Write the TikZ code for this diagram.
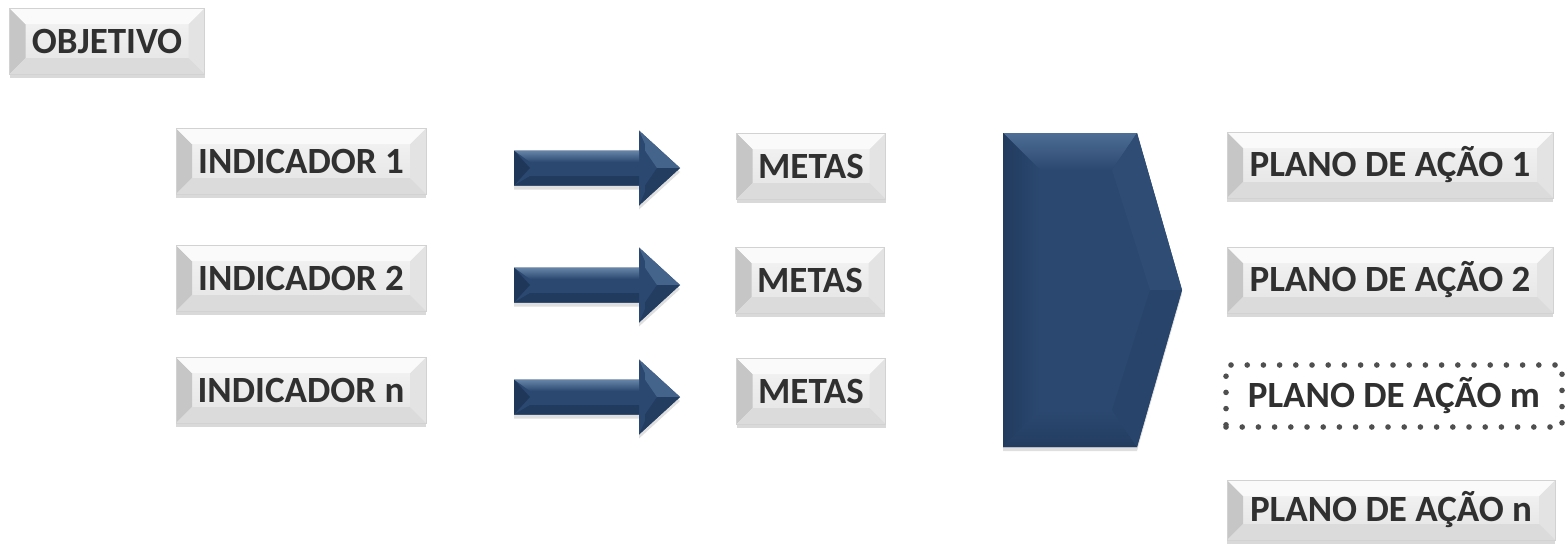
\documentclass[tikz,border=0pt]{standalone}
\usepackage{fontspec}
\setmainfont{Carlito}
\usepackage{tikz}
\usetikzlibrary{shadows}

\definecolor{txtgray}{HTML}{303030}
\definecolor{navy}{HTML}{2B4870}
\definecolor{navylight}{HTML}{56779F}
\definecolor{navydark}{HTML}{1F3859}
\newcommand\bevw{8pt}

\begin{document}
\begin{tikzpicture}[x=0.5pt,y=-0.5pt]
        \tikzstyle{bevelbox}=[rectangle,draw=gray!35,line width=0.4pt,
            top color=gray!8,bottom color=gray!22,minimum height=33pt,
            text=txtgray,font=\fontsize{18.5}{22}\selectfont\bfseries,
            drop shadow={shadow xshift=0pt,shadow yshift=-2pt,opacity=.3,fill=gray},
            path picture={
              \fill[gray!45] (path picture bounding box.south west) -- (path picture bounding box.north west)
                -- ([shift={(\bevw,-\bevw)}]path picture bounding box.north west) -- ([shift={(\bevw,\bevw)}]path picture bounding box.south west) -- cycle;
              \fill[gray!22] (path picture bounding box.south east) -- (path picture bounding box.north east)
                -- ([shift={(-\bevw,-\bevw)}]path picture bounding box.north east) -- ([shift={(-\bevw,\bevw)}]path picture bounding box.south east) -- cycle;
              \fill[gray!4] (path picture bounding box.north west) -- (path picture bounding box.north east)
                -- ([shift={(-\bevw,-\bevw)}]path picture bounding box.north east) -- ([shift={(\bevw,-\bevw)}]path picture bounding box.north west) -- cycle;
              \fill[gray!28] (path picture bounding box.south west) -- (path picture bounding box.south east)
                -- ([shift={(-\bevw,\bevw)}]path picture bounding box.south east) -- ([shift={(\bevw,\bevw)}]path picture bounding box.south west) -- cycle;
            }]
        \tikzstyle{dotbox}=[rectangle,draw=txtgray!85,line width=2.8pt,line cap=round,
            dash pattern=on 0pt off 8.1pt,minimum height=31pt,minimum width=168pt,
            text=txtgray,font=\fontsize{18.5}{22}\selectfont\bfseries]
        \tikzstyle{arrowbody}=[fill=navy,drop shadow={shadow xshift=0pt,shadow yshift=-2pt,opacity=.25,fill=gray}]
        \useasboundingbox (0,0) rectangle (1568,547);

        % left column
        \node[bevelbox,minimum width=97.5pt] (obj) at (107,41) {OBJETIVO};
        \node[bevelbox,minimum width=125pt] (ind1) at (301,161) {INDICADOR 1};
        \node[bevelbox,minimum width=125pt] (ind2) at (301,278) {INDICADOR 2};
        \node[bevelbox,minimum width=125pt] (indn) at (301,390) {INDICADOR n};

        % block arrows
        \foreach \y/\n in {168/arr1,285/arr2,397/arr3}{
          \fill[arrowbody] (514,\y-17.5) -- (639,\y-17.5) -- (639,\y-37.5) -- (680,\y)
            -- (639,\y+37.5) -- (639,\y+17.5) -- (514,\y+17.5) -- cycle;
          \shade[top color=navylight!90!white,bottom color=navy] (514,\y-17.5) -- (639,\y-17.5) -- (639,\y-6) -- (530,\y-6) -- cycle;
          \fill[navydark] (514,\y-17.5) -- (530,\y) -- (514,\y+17.5) -- cycle;
          \fill[navydark!80!navy] (514,\y+17.5) -- (530,\y+8) -- (639,\y+8) -- (639,\y+17.5) -- cycle;
          \fill[navylight!60!navy] (639,\y-37.5) -- (680,\y) -- (657,\y) -- (645,\y-17.5) -- (645,\y-24) -- cycle;
          \fill[navydark!70!navy] (639,\y+37.5) -- (680,\y) -- (657,\y) -- (645,\y+17.5) -- (645,\y+24) -- cycle;
          \coordinate (\n) at (597,\y);
        }

        % metas
        \node[bevelbox,minimum width=74.5pt] (met1) at (811,166) {METAS};
        \node[bevelbox,minimum width=74.5pt] (met2) at (810,280) {METAS};
        \node[bevelbox,minimum width=74.5pt] (met3) at (811,391) {METAS};

        % big pentagon
        \coordinate (pa) at (1003,133);
        \coordinate (pb) at (1137,133);
        \coordinate (pc) at (1182,290);
        \coordinate (pd) at (1137,447);
        \coordinate (pe) at (1003,447);
        \fill[arrowbody] (pa) -- (pb) -- (pc) -- (pd) -- (pe) -- cycle;
        \shade[top color=navylight!80!navy,bottom color=navy] (pa) -- (pb) -- (1112,170) -- (1040,170) -- cycle;
        \shade[left color=navydark!80!navy,right color=navy] (pa) -- (1040,170) -- (1040,410) -- (pe) -- cycle;
        \shade[top color=navy,bottom color=navydark!70!navy] (pe) -- (1040,410) -- (1112,410) -- (pd) -- cycle;
        \fill[navy!92!navylight] (pb) -- (pc) -- (1150,290) -- (1112,170) -- cycle;
        \fill[navydark!25!navy] (pd) -- (pc) -- (1150,290) -- (1112,410) -- cycle;

        % action plans
        \node[bevelbox,minimum width=163pt] (pl1) at (1390,165) {PLANO DE AÇÃO 1};
        \node[bevelbox,minimum width=163pt] (pl2) at (1390,280) {PLANO DE AÇÃO 2};
        \node[dotbox] (plm) at (1394,396) {PLANO DE AÇÃO m};
        \node[bevelbox,minimum width=164pt,minimum height=30pt] (pln) at (1391,510) {PLANO DE AÇÃO n};
\end{tikzpicture}
\end{document}
